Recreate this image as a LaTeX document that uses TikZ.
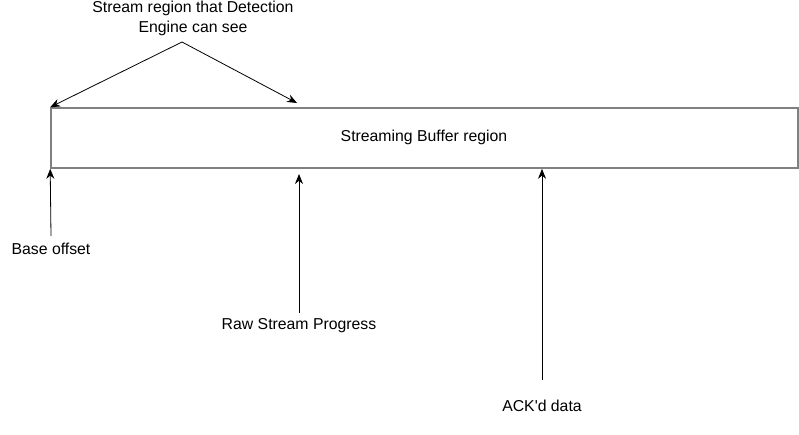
\documentclass[tikz,border=0pt]{standalone}
\usepackage{fontspec}
\setmainfont{Liberation Sans}
\usetikzlibrary{arrows.meta}
\begin{document}
\begin{tikzpicture}[x=1pt,y=-1pt,font=\fontsize{15.8}{20}\selectfont,
  buffer/.style={draw=black!50,line width=1.6pt,minimum width=747pt,minimum height=60pt,inner sep=0pt},
  lbl/.style={align=center,inner sep=2pt},
  arr/.style={-{Stealth[length=10pt,width=8pt]},line width=0.8pt}]
  \useasboundingbox (0,0) rectangle (799,434);
  \node[buffer] (buf) at (424.5,138){};
  \node at (424,137){Streaming Buffer region};
  \node[lbl] (see) at (193,18){Stream region that Detection\\Engine can see};
  \node[lbl] (base) at (51,249){Base offset};
  \node[lbl] (raw) at (299,326){Raw Stream Progress};
  \node[lbl] (ack) at (542,406){ACK\textquotesingle d data};
  \coordinate (apex) at (182,42);
  \coordinate (seeend) at (297,103);
  \coordinate (rawend) at (299,174);
  \draw[arr] (apex) -- (buf.north west);
  \draw[arr] (apex) -- (seeend);
  \draw[arr] (51,236) -- (buf.south west);
  \draw[arr] (299,313) -- (rawend);
  \draw[arr] (542,380) -- (ack|-buf.south);
\end{tikzpicture}
\end{document}
